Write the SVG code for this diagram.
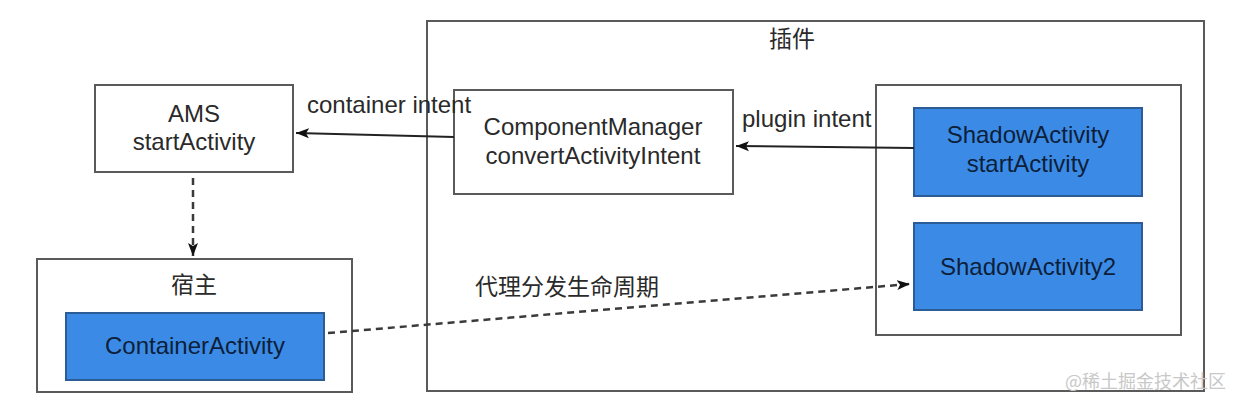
<svg xmlns="http://www.w3.org/2000/svg" width="1240" height="406" viewBox="0 0 1240 406">
  <defs>
    <marker id="arr" markerUnits="userSpaceOnUse" markerWidth="14" markerHeight="12" viewBox="0 0 14 12" refX="13" refY="6" orient="auto">
      <path d="M0,1 L13,6 L0,11 L3,6 Z" fill="#111"/>
    </marker>
    <style>
      .box { fill: #ffffff; stroke: #5a5a5a; stroke-width: 2; }
      .blue { fill: #3b8be6; stroke: #2c5c95; stroke-width: 2; }
      .t { font-family: "Liberation Sans", Arial, "Noto Sans CJK SC", sans-serif; font-size: 24px; fill: #2a2a2a; }
      .tc { text-anchor: middle; }
      .tb { fill: #0d1f3a; }
      .cjk { font-family: "Noto Sans CJK SC", "Liberation Sans", sans-serif; font-size: 23px; fill: #2a2a2a; }
      .solid { fill: none; stroke: #222; stroke-width: 2; }
      .dash { fill: none; stroke: #3a3a3a; stroke-width: 2.5; stroke-dasharray: 7 5; }
      .wm { font-family: "Noto Sans CJK SC", "Liberation Sans", sans-serif; font-size: 18px; fill: #c8c8c8; }
    </style>
  </defs>
  <rect width="1240" height="406" fill="#ffffff"/>

  <g id="plugin">
    <rect class="box" x="427" y="21" width="777" height="370"/>
    <text class="cjk tc" x="792" y="47">插件</text>
  </g>

  <g id="plugin-inner">
    <rect class="box" x="876" y="85" width="305" height="250"/>
  </g>

  <g id="host">
    <rect class="box" x="37" y="259" width="315" height="133"/>
    <text class="cjk tc" x="194" y="293">宿主</text>
  </g>

  <g id="ams">
    <rect class="box" x="95" y="85" width="198" height="87"/>
    <text class="t tc" x="194" y="122">AMS</text>
    <text class="t tc" x="194" y="150">startActivity</text>
  </g>

  <g id="componentManager">
    <rect class="box" x="454" y="90" width="279" height="104"/>
    <text class="t tc" x="593" y="135">ComponentManager</text>
    <text class="t tc" x="593" y="164">convertActivityIntent</text>
  </g>

  <g id="shadowActivity">
    <rect class="blue" x="914" y="108" width="228" height="88"/>
    <text class="t tc tb" x="1028" y="143">ShadowActivity</text>
    <text class="t tc tb" x="1028" y="172">startActivity</text>
  </g>

  <g id="shadowActivity2">
    <rect class="blue" x="914" y="223" width="228" height="87"/>
    <text class="t tc tb" x="1028" y="275">ShadowActivity2</text>
  </g>

  <g id="containerActivity">
    <rect class="blue" x="66" y="313" width="258" height="67"/>
    <text class="t tc tb" x="195" y="354">ContainerActivity</text>
  </g>

  <g id="connectors">
    <path class="solid" d="M454,137 L296,133" marker-end="url(#arr)"/>
    <path class="solid" d="M914,148 L736,146" marker-end="url(#arr)"/>
    <path class="dash" d="M193,178 L193,256" marker-end="url(#arr)"/>
    <path class="dash" d="M328,333 L910,284" marker-end="url(#arr)"/>
    <text class="t" x="307" y="113">container intent</text>
    <text class="t" x="742" y="127">plugin intent</text>
    <text class="cjk" x="475" y="295">代理分发生命周期</text>
  </g>

  <text class="wm" x="1065" y="388">@稀土掘金技术社区</text>
</svg>
